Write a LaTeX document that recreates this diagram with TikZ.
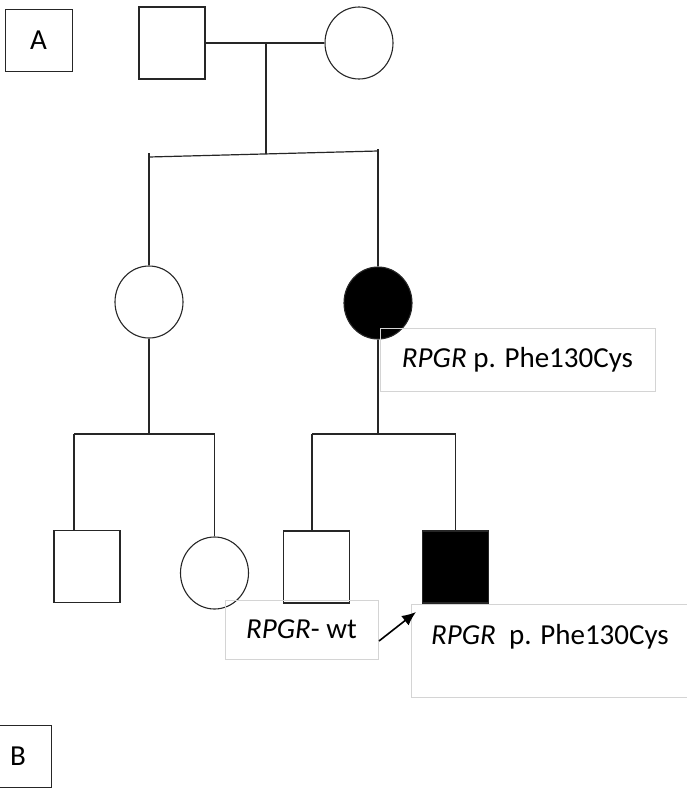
\documentclass[tikz,border=0pt]{standalone}
\usepackage{fontspec}
\setmainfont{Carlito}
\usetikzlibrary{shapes.geometric, arrows.meta}

\begin{document}
\begin{tikzpicture}[x=1pt, y=-1pt,
  line/.style={line width=1.2pt, black!85},
  male/.style={draw=black!85, line width=1.1pt, rectangle, minimum width=66pt, minimum height=72pt, inner sep=0pt},
  female/.style={draw=black!85, line width=1.1pt, ellipse, minimum width=68pt, minimum height=72pt, inner sep=0pt},
  affected/.style={fill=black},
  tag/.style={draw=black!17, line width=0.8pt, font=\fontsize{29}{34}\selectfont, inner sep=0pt},
  tagtext/.style={font=\fontsize{29}{34}\selectfont, inner sep=0pt},
  panel/.style={draw=black!85, line width=1pt, font=\fontsize{29}{34}\selectfont, minimum width=67pt, minimum height=62pt}]

\useasboundingbox (0,0) rectangle (687,790);
\clip (0,0) rectangle (687,790);

%---panels---
\node[panel] (pA) at (38.5,40) {A};
\node[panel] (pB) at (18,756) {B};

%---generation I---
\node[male] (I1) at (172,43) {};
\node[female] (I2) at (359,43) {};
\coordinate (mI) at (266,43);
\coordinate (sI) at (266,154);
\coordinate (sIa) at (149,157);
\coordinate (sIb) at (378,151);

\draw[line] (I1) -- (I2);
\draw[line] (mI) -- (sI);
\draw[line] (sIa) -- (sIb);

%---generation II---
\node[female] (II1) at (149,302) {};
\node[female, affected] (II2) at (378,303) {};
\coordinate (sIIa) at (74,434);
\coordinate (sIIb) at (214.5,434);
\coordinate (sIIc) at (312,434);
\coordinate (sIId) at (455.5,434);

\draw[line] ([yshift=4pt]sIa) -- (II1.north);
\draw[line] ([yshift=2pt]sIb) -- (II2.north);

\draw[line] (II1.south) -- (II1.south |- sIIa);
\draw[line] (sIIa) -- (sIIb);
\draw[line] (II2.south) -- (II2.south |- sIIc);
\draw[line] (sIIc) -- (sIId);

\node[tag, minimum width=275pt, minimum height=63pt] (t1) at (517.5,359.5) {\textit{RPGR} p. Phe130Cys};

%---generation III---
\node[male] (III1) at (87,566.5) {};
\node[female] (III2) at (214.5,573) {};
\node[male] (III3) at (316.5,567) {};
\node[male, affected] (III4) at (455.5,567) {};

\draw[line] (sIIa) -- (sIIa |- III1.north);
\draw[line] (sIIb) -- (III2.north);
\draw[line] (sIIc) -- (sIIc |- III3.north);
\draw[line] (sIId) -- (III4.north);

\node[tag, minimum width=153pt, minimum height=59pt] (t2) at (301.5,629.5) {\textit{RPGR}- wt};
\node[tag, minimum width=309pt, minimum height=93pt] (box3) at (565.5,650.5) {};
\node[tagtext, anchor=base west] (t3) at (431,644) {\textit{RPGR}\ \ p. Phe130Cys};

\coordinate (a0) at (379,641);
\coordinate (a1) at (416,612);
\draw[line, black, line width=1.6pt, -{Latex[length=14pt, width=12pt]}] (a0) -- (a1);

\end{tikzpicture}
\end{document}
